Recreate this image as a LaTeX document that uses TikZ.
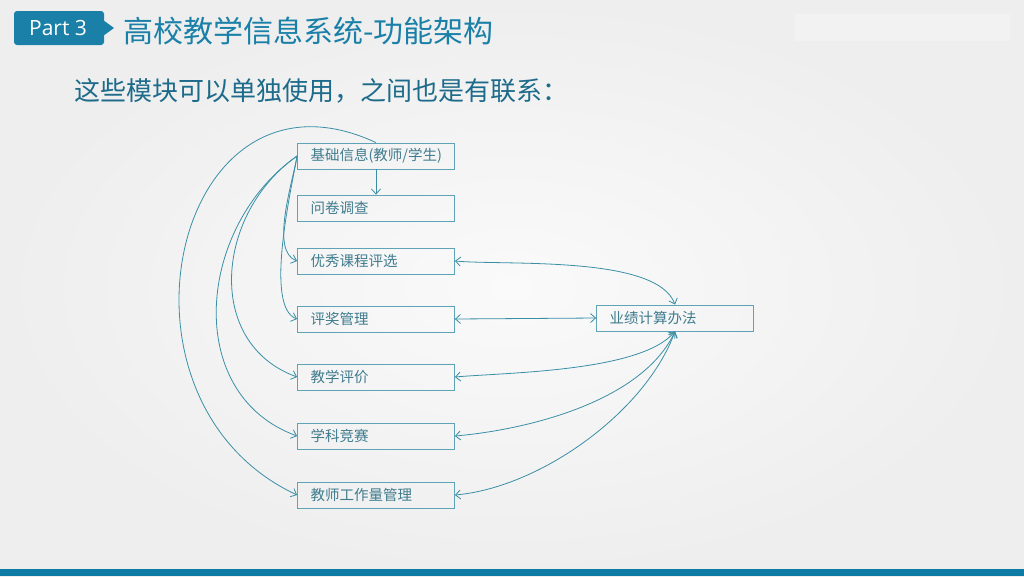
\documentclass[tikz,border=0pt]{standalone}
\usepackage{fontspec}
\usetikzlibrary{arrows.meta}
\setmainfont{Open Sans}
\newfontfamily\cjk{Noto Sans CJK SC}
\definecolor{bgin}{HTML}{FAFAFA}
\definecolor{bgout}{HTML}{EEEEEE}
\definecolor{barblue}{HTML}{0E7BA4}
\definecolor{titleblue}{HTML}{1A80A8}
\definecolor{subblue}{HTML}{1D6B8A}
\definecolor{boxline}{HTML}{5FA3B7}
\definecolor{boxtext}{HTML}{3F7C8E}
\definecolor{linkc}{HTML}{3A8FA6}

\begin{document}
\begin{tikzpicture}[x=1pt, y=1pt,
    box/.style={draw=boxline, line width=0.8pt, minimum height=26pt, text width=131pt,
        inner xsep=13pt, inner ysep=0pt, align=left, text=boxtext,
        font=\cjk\fontsize{14.5}{16}\selectfont},
    link/.style={linkc, line width=0.8pt, >={Straight Barb[length=5pt, width=9pt]}}]
    % page
    \useasboundingbox (0,0) rectangle (1024,-576);
    \shade[inner color=bgin, outer color=bgout] (0,0) rectangle (1024,-576);
    \fill[barblue] (0,-569) rectangle (1024,-576);
    \fill[white, opacity=0.25] (795,-14) rectangle (1010,-41);

    % header
    \fill[titleblue, rounded corners=3pt] (14,-11) rectangle (104,-45);
    \fill[titleblue] (103,-20) -- (114,-28) -- (103,-36) -- cycle;
    \node[text=white, font=\fontsize{21}{23}\selectfont] (part) at (58,-28) {Part 3};
    \node[anchor=west, inner sep=0pt, text=titleblue, font=\cjk\fontsize{30}{32}\selectfont]
        (title) at (123,-31) {高校教学信息系统-功能架构};
    \node[anchor=west, inner sep=0pt, text=subblue, font=\cjk\fontsize{26}{28}\selectfont]
        (sub) at (74,-91) {这些模块可以单独使用，之间也是有联系：};

    % modules
    \node[box] (jc) at (376,-156) {基础信息(教师/学生)};
    \node[box] (wj) at (376,-208) {问卷调查};
    \node[box] (yx) at (376,-261) {优秀课程评选};
    \node[box] (pj) at (376,-319) {评奖管理};
    \node[box] (jx) at (376,-377) {教学评价};
    \node[box] (xk) at (376,-436) {学科竞赛};
    \node[box] (gz) at (376,-495) {教师工作量管理};
    \node[box] (yj) at (675,-318) {业绩计算办法};

    % from the basic data
    \draw[link, ->] (jc.south) -- (wj.north);
    \draw[link, ->] (jc.west) to[out=-100, in=160, looseness=0.7] (yx.west);
    \draw[link, ->] (jc.west) to[out=-100, in=160, looseness=0.55] (pj.west);
    \draw[link, ->] (jc.west) to[out=-145, in=160, looseness=1.15] (jx.west);
    \draw[link, ->] (jc.west) to[out=-145, in=160, looseness=1.12] (xk.west);
    \draw[link, ->] (jc.north) to[out=155, in=155, looseness=1.58] (gz.west);

    % to the performance rules
    \draw[link, <->] (yx.east) to[out=-5, in=110, looseness=0.6] (yj.north);
    \draw[link, <->] (pj.east) -- (yj.west);
    \draw[link, <->] (yj.south) to[out=-130, in=5, looseness=0.6] (jx.east);
    \draw[link, <->] (yj.south) to[out=-115, in=5, looseness=0.8] (xk.east);
    \draw[link, <->] (yj.south) to[out=-110, in=5, looseness=0.8] (gz.east);
\end{tikzpicture}
\end{document}
